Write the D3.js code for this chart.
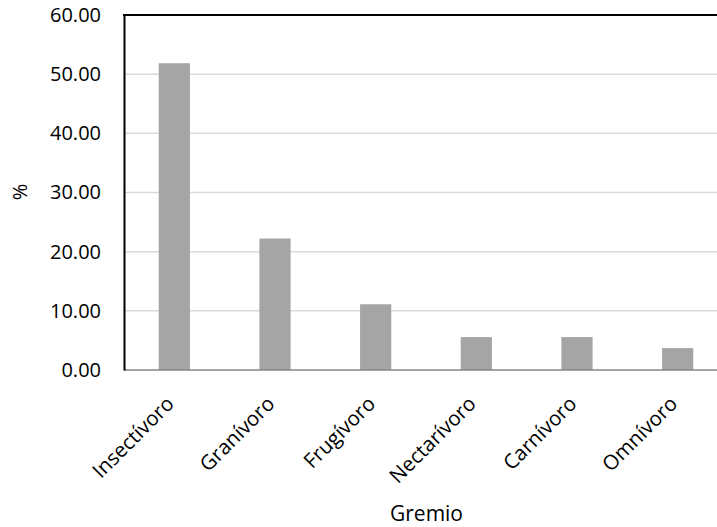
<!DOCTYPE html>
<html><head><meta charset="utf-8">
<script src="https://cdn.jsdelivr.net/npm/d3@7"></script>
<style>body{margin:0;background:#fff}svg{display:block}text{font-family:"Open Sans",sans-serif;fill:#000}</style>
</head><body>
<script>
const categories = ["Insectívoro","Granívoro","Frugívoro","Nectarívoro","Carnívoro","Omnívoro"];
const values = [51.85, 22.22, 11.11, 5.56, 5.56, 3.70];
const yTicks = [0,10,20,30,40,50,60];

const W = 717, H = 527;
const pL = 124, pT = 15, pB = 370, pR = 728;
const svg = d3.select("body").append("svg").attr("width", W).attr("height", H);

const x = d3.scaleBand().domain(categories).range([pL, pR]).paddingInner(0.69).paddingOuter(0.345);
const y = d3.scaleLinear().domain([0,60]).range([pB, pT]);

// gridlines
svg.append("g").selectAll("line").data(yTicks.filter(d=>d>0 && d<60)).join("line")
  .attr("x1", pL).attr("x2", pR).attr("y1", d=>y(d)).attr("y2", d=>y(d))
  .attr("stroke", "#d9d9d9").attr("stroke-width", 1.5);

// bars
svg.append("g").selectAll("rect").data(values).join("rect")
  .attr("x", (d,i)=>x(categories[i])).attr("width", x.bandwidth())
  .attr("y", d=>y(d)).attr("height", d=>pB - y(d))
  .attr("fill", "#a5a5a5");

// baseline
svg.append("line").attr("x1", pL).attr("x2", pR).attr("y1", pB).attr("y2", pB)
  .attr("stroke", "#868686").attr("stroke-width", 1.5);
// top border
svg.append("line").attr("x1", pL-1).attr("x2", pR).attr("y1", pT).attr("y2", pT)
  .attr("stroke", "#000").attr("stroke-width", 2);

// y axis
const ya = svg.append("g").attr("transform", `translate(${pL},0)`)
  .call(d3.axisLeft(y).tickValues(yTicks).tickFormat(d3.format(".2f")).tickSize(0).tickPadding(23));
ya.select(".domain").attr("stroke", "#000").attr("stroke-width", 2);
ya.selectAll("text").style("font-size", "20px").style("font-family", '"Open Sans",sans-serif');

// x axis labels
const xa = svg.append("g").attr("transform", `translate(0,${pB})`)
  .call(d3.axisBottom(x).tickSize(0));
xa.select(".domain").remove();
xa.selectAll("text").style("font-size", "20.5px").style("font-family", '"Open Sans",sans-serif')
  .attr("text-anchor", "end").attr("dy", null).attr("y", 0)
  .attr("transform", "translate(1,35) rotate(-45)");

svg.append("text").attr("x", 426.5).attr("y", 521).attr("text-anchor", "middle")
  .style("font-size", "21px").text("Gremio");
svg.append("text").attr("transform", `translate(27,192) rotate(-90)`)
  .attr("text-anchor", "middle").style("font-size", "20px").text("%");
</script>
</body></html>
